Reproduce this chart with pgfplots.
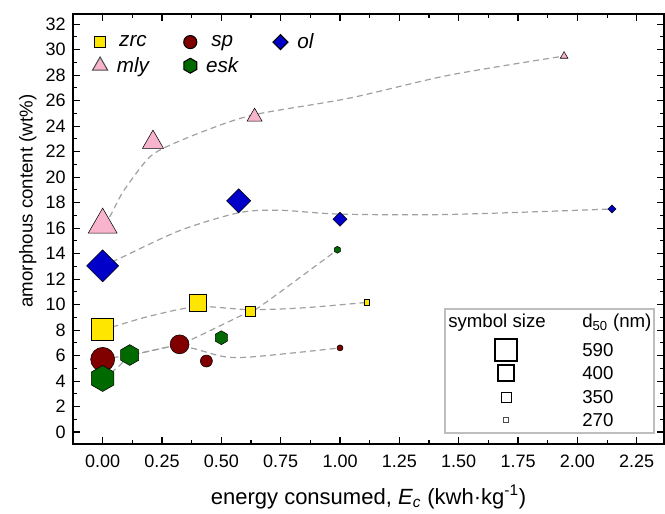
\documentclass[border=0pt]{standalone}
\usepackage{fontspec}
\setmainfont{Liberation Sans}
\usepackage{pgfplots}
\usepackage{pgfplotstable}
\pgfplotsset{compat=1.18}

\definecolor{zrcY}{RGB}{255,230,0}
\definecolor{spR}{RGB}{128,0,0}
\definecolor{olB}{RGB}{0,0,200}
\definecolor{mlyP}{RGB}{248,180,204}
\definecolor{eskG}{RGB}{0,105,0}
\definecolor{dashG}{RGB}{160,160,160}
\definecolor{keyG}{RGB}{190,190,190}

\pgfdeclareplotmark{hexagon*}{%
  \pgfpathmoveto{\pgfqpoint{0pt}{\pgfplotmarksize}}%
  \pgfpathlineto{\pgfqpoint{0.866\pgfplotmarksize}{0.5\pgfplotmarksize}}%
  \pgfpathlineto{\pgfqpoint{0.866\pgfplotmarksize}{-0.5\pgfplotmarksize}}%
  \pgfpathlineto{\pgfqpoint{0pt}{-\pgfplotmarksize}}%
  \pgfpathlineto{\pgfqpoint{-0.866\pgfplotmarksize}{-0.5\pgfplotmarksize}}%
  \pgfpathlineto{\pgfqpoint{-0.866\pgfplotmarksize}{0.5\pgfplotmarksize}}%
  \pgfpathclose
  \pgfusepathqfillstroke
}

% E = energy consumed, v = amorphous content, r = marker radius (pt), w = border width (pt)
\pgfplotstableread{
E v r w
0 8.05 8.25 1.2
0.399 10.17 6.4 1.0
0.621 9.51 3.75 0.7
1.112 10.17 2.1 0.5
}\zrc
\pgfplotstableread{
E v r w
0 5.7 9.0 1.2
0.324 6.88 7.1 1.0
0.437 5.57 4.5 0.7
1.0 6.6 2.25 0.5
}\sp
\pgfplotstableread{
E v r w
0 13.04 8.5 1.2
0.573 18.14 6.4 1.0
1.0 16.7 3.7 0.7
2.146 17.5 2.1 0.5
}\ol
\pgfplotstableread{
E v r w
0 16.26 12.5 1.2
0.212 22.73 9.15 1.0
0.64 24.73 6.5 0.7
1.944 29.5 3.3 0.5
}\mly
\pgfplotstableread{
E v r w
0 4.2 9.75 1.2
0.114 6.04 7.8 1.0
0.5 7.4 5.2 0.7
0.989 14.3 2.6 0.5
}\esk

% dashed guide curves (read from the picture)
\pgfplotstableread{
E v
0 8.05
0.044 8.26
0.2 9.1
0.4 9.83
0.62 9.6
0.85 9.75
1.112 10.17
}\zrcL
\pgfplotstableread{
E v
0 5.7
0.16 6.2
0.324 6.75
0.5 5.95
0.6 5.86
0.8 6.2
1.0 6.6
}\spL
\pgfplotstableread{
E v
0 13.04
0.069 13.6
0.324 15.8
0.573 17.2
0.746 17.4
1.0 17.1
1.46 17.07
2.146 17.5
}\olL
\pgfplotstableread{
E v
0 16.3
0.03 16.9
0.086 18.85
0.184 21.3
0.254 22.25
0.44 23.7
0.64 24.9
1.04 26.2
1.46 28.0
1.944 29.5
}\mlyL
\pgfplotstableread{
E v
0 4.2
0.065 5.1
0.114 6.04
0.152 6.17
0.282 6.7
0.367 7.2
0.601 9.3
0.662 9.83
0.989 14.3
}\eskL

\pgfplotsset{
  sizedmarks/.style 2 args={
    scatter, only marks, mark=#1,
    scatter/use mapped color={draw=black, fill=#2},
    visualization depends on={\thisrow{r} \as \rad},
    visualization depends on={\thisrow{w} \as \lw},
    scatter/@pre marker code/.append style={/tikz/mark size=\rad, /tikz/line width=\lw pt},
    forget plot
  },
  guide/.style={no marks, smooth, tension=0.5, dashG, line width=0.9pt, dash pattern=on 4.5pt off 3pt, forget plot}
}

\begin{document}
\begin{tikzpicture}
\begin{axis}[
  scale only axis,
  width=443.25pt, height=322.5pt,
  xmin=-0.125, xmax=2.365, ymin=-0.94, ymax=32.8,
  xtick={0,0.25,0.5,0.75,1,1.25,1.5,1.75,2,2.25},
  ytick={0,2,4,6,8,10,12,14,16,18,20,22,24,26,28,30,32},
  minor x tick num=1, minor y tick num=1,
  tick align=inside,
  major tick length=5pt, minor tick length=3pt,
  every tick/.style={black, line width=0.8pt},
  axis line style={line width=0.9pt},
  /pgf/number format/assume math mode=true,
  xticklabel style={/pgf/number format/.cd, fixed, fixed zerofill, precision=2, /tikz/.cd, yshift=-5pt},
  yticklabel style={/pgf/number format/.cd, fixed, precision=0, /tikz/.cd, xshift=-2pt},
  ticklabel style={font=\fontsize{13.5}{15}\selectfont},
  xlabel style={font=\fontsize{16.5}{19}\selectfont, yshift=-6pt},
  ylabel style={font=\fontsize{14}{16}\selectfont, at={(ticklabel cs:0.565)}},
  xlabel={energy consumed, \textit{E}\textsubscript{\textit{c}} (kwh·kg\textsuperscript{-1})},
  ylabel={amorphous content (wt\%)},
  legend columns=3,
  legend style={draw=none, fill=none, at={(axis description cs:0,1)}, anchor=north west,
    xshift=11.5pt, yshift=-10.5pt,
    font=\fontsize{15.5}{18}\selectfont\itshape, row sep=1pt,
    /tikz/every even column/.append style={column sep=24pt}},
]
\addplot[guide] table[x=E,y=v] {\mlyL};
\addplot[guide] table[x=E,y=v] {\olL};
\addplot[guide] table[x=E,y=v] {\zrcL};
\addplot[guide] table[x=E,y=v] {\spL};
\addplot[guide] table[x=E,y=v] {\eskL};

\addplot[sizedmarks={triangle*}{mlyP}] table[x=E,y=v] {\mly};
\addplot[sizedmarks={square*}{olB}, mark options={rotate=45}] table[x=E,y=v] {\ol};
\addplot[sizedmarks={square*}{zrcY}] table[x=E,y=v] {\zrc};
\addplot[sizedmarks={*}{spR}] table[x=E,y=v] {\sp};
\addplot[sizedmarks={hexagon*}{eskG}] table[x=E,y=v] {\esk};

\addlegendimage{only marks, mark=square*, mark size=4.1pt, mark options={fill=zrcY, draw=black, line width=0.8pt}}
\addlegendentry{\hspace{5pt}zrc}
\addlegendimage{only marks, mark=*, mark size=4.9pt, mark options={fill=spR, draw=black, line width=0.8pt}}
\addlegendentry{\hspace{5pt}sp}
\addlegendimage{only marks, mark=square*, mark size=4pt, mark options={fill=olB, draw=black, line width=0.8pt, rotate=45}}
\addlegendentry{\hspace{5pt}ol}
\addlegendimage{only marks, mark=triangle*, mark size=6.5pt, mark options={fill=mlyP, draw=black!70, line width=0.8pt}}
\addlegendentry{\hspace{5pt}mly}
\addlegendimage{only marks, mark=hexagon*, mark size=5.6pt, mark options={fill=eskG, draw=black, line width=0.8pt}}
\addlegendentry{\hspace{5pt}esk}
\end{axis}
% symbol-size key
\draw[keyG, line width=0.8pt] (279pt,8.25pt) rectangle (435.75pt,101.25pt);
\begin{scope}[font=\fontsize{14}{16}\selectfont]
\node[anchor=west, inner sep=0pt] at (281.25pt,90.75pt) {symbol size};
\node[anchor=west, inner sep=0pt] at (381.75pt,90.75pt) {d\textsubscript{50} (nm)};
\node[draw=black, line width=1.3pt, minimum size=16.5pt, inner sep=0pt] at (324.75pt,70.5pt) {};
\node[draw=black, line width=1.1pt, minimum size=12pt, inner sep=0pt] at (324.75pt,53.25pt) {};
\node[draw=black, line width=0.7pt, minimum size=7.5pt, inner sep=0pt] at (324.75pt,35.25pt) {};
\node[draw=black!70, line width=0.5pt, minimum size=3.75pt, inner sep=0pt] at (324.75pt,18pt) {};
\node[anchor=west, inner sep=0pt] at (381.75pt,70.5pt) {590};
\node[anchor=west, inner sep=0pt] at (381.75pt,53.25pt) {400};
\node[anchor=west, inner sep=0pt] at (381.75pt,35.25pt) {350};
\node[anchor=west, inner sep=0pt] at (381.75pt,18pt) {270};
\end{scope}
\path[use as bounding box] (-54.75pt,-47.25pt) rectangle (444pt,333pt);
\end{tikzpicture}
\end{document}
